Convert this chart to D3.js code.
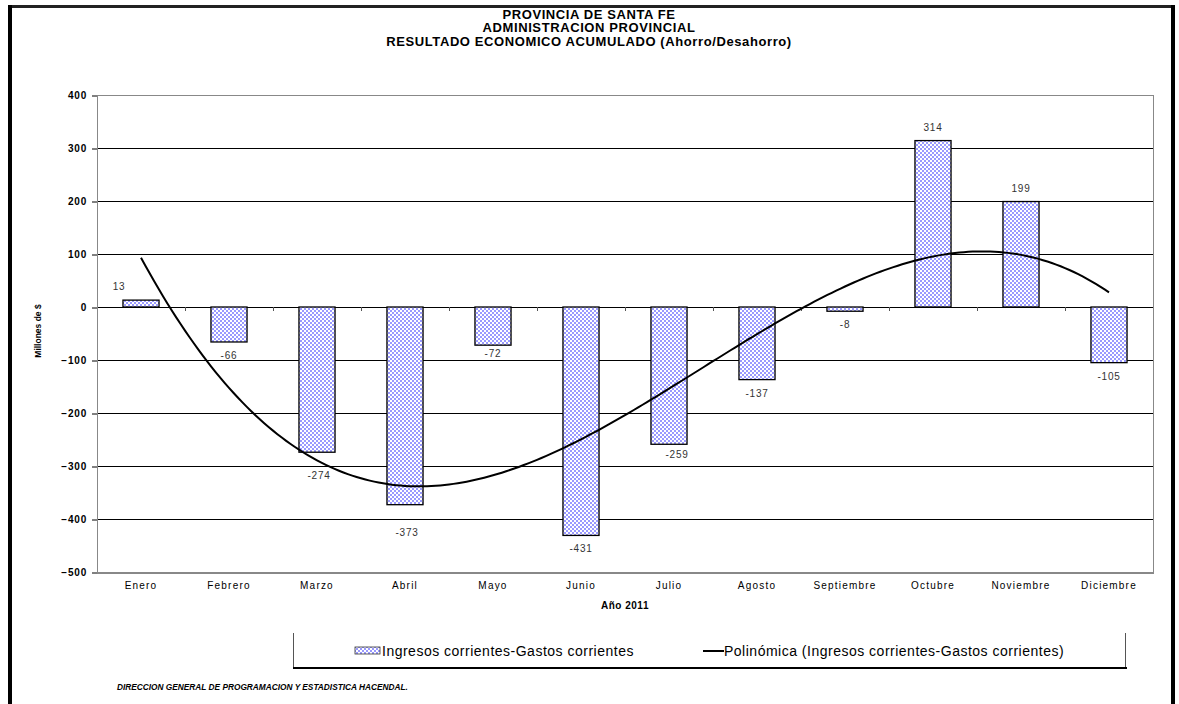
<!DOCTYPE html>
<html><head><meta charset="utf-8">
<script src="https://cdn.jsdelivr.net/npm/d3@7"></script>
<style>
body{margin:0;background:#fff;}
svg{display:block;font-family:"Liberation Sans",Arial,sans-serif;}
</style>
</head><body>
<svg id="c" width="1179" height="704"></svg>
<script>
// ---------- data ----------
const titleLines = ["PROVINCIA DE SANTA FE", "ADMINISTRACION PROVINCIAL", "RESULTADO ECONOMICO ACUMULADO (Ahorro/Desahorro)"];
const months = ["Enero","Febrero","Marzo","Abril","Mayo","Junio","Julio","Agosto","Septiembre","Octubre","Noviembre","Diciembre"];
const values = [13, -66, -274, -373, -72, -431, -259, -137, -8, 314, 199, -105];
const yTicks = [400, 300, 200, 100, 0, -100, -200, -300, -400, -500];
const yTitle = "Millones de $";
const xTitle = "Año 2011";
const seriesName = "Ingresos corrientes-Gastos corrientes";
const trendName = "Polinómica (Ingresos corrientes-Gastos corrientes)";
const footer = "DIRECCION GENERAL DE PROGRAMACION Y ESTADISTICA HACENDAL.";

// ---------- layout ----------
const svg = d3.select("#c");
const P = {left: 97, right: 1153, top: 95, bottom: 572};

const x = d3.scaleBand().domain(months).range([P.left, P.right])
  .paddingInner(0.59).paddingOuter(0.295);
const y = d3.scaleLinear().domain([-500, 400]).range([P.bottom, P.top]);
const cx = m => x(m) + x.bandwidth() / 2;

// pattern
const defs = svg.append("defs");
const pat = defs.append("pattern").attr("id", "chk").attr("patternUnits", "userSpaceOnUse")
  .attr("width", 4).attr("height", 4);
pat.append("rect").attr("width", 4).attr("height", 4).attr("fill", "#fff");
pat.append("rect").attr("width", 2).attr("height", 2).attr("fill", "#9999ff");
pat.append("rect").attr("x", 2).attr("y", 2).attr("width", 2).attr("height", 2).attr("fill", "#9999ff");

// outer frame
svg.append("rect").attr("x", 8).attr("y", 5).attr("width", 1167).attr("height", 3).attr("fill", "#222");
svg.append("rect").attr("x", 8).attr("y", 5).attr("width", 4).attr("height", 700).attr("fill", "#000");
svg.append("rect").attr("x", 1171).attr("y", 5).attr("width", 4).attr("height", 700).attr("fill", "#000");

// title
svg.append("g").selectAll("text").data(titleLines).join("text")
  .attr("x", 589).attr("y", (d, i) => 18.5 + i * 13.5)
  .attr("text-anchor", "middle").attr("font-size", "13px").attr("font-weight", "bold")
  .attr("letter-spacing", "0.6px").attr("fill", "#000").text(d => d);

// gridlines
const grid = yTicks.filter(t => t < 400 && t > -500);
svg.append("g").selectAll("line").data(grid).join("line")
  .attr("x1", P.left).attr("x2", P.right)
  .attr("y1", d => Math.round(y(d)) + 0.5).attr("y2", d => Math.round(y(d)) + 0.5)
  .attr("stroke", "#000").attr("stroke-width", 1);

// plot frame
svg.append("rect").attr("x", P.left + 0.5).attr("y", P.top + 0.5)
  .attr("width", P.right - P.left).attr("height", P.bottom - P.top)
  .attr("fill", "none").attr("stroke", "#888").attr("stroke-width", 1);
svg.append("line").attr("x1", P.left).attr("x2", P.right + 1)
  .attr("y1", P.bottom + 1).attr("y2", P.bottom + 1).attr("stroke", "#888").attr("stroke-width", 2);

// y axis
const yAxis = d3.axisLeft(y).tickValues(yTicks).tickSize(5).tickPadding(5).tickFormat(d3.format("d"));
const gy = svg.append("g").attr("transform", `translate(${P.left},0)`).call(yAxis);
gy.select(".domain").remove();
gy.selectAll(".tick line").attr("stroke", "#000").attr("transform", "translate(0,0.5)");
gy.selectAll(".tick text").attr("font-size", "10px").attr("font-weight", "bold")
  .attr("font-family", "Liberation Sans, Arial, sans-serif").attr("letter-spacing", "0.8px").attr("fill", "#000");

// y title
svg.append("text").attr("transform", `translate(41,331) rotate(-90)`)
  .attr("text-anchor", "middle").attr("font-size", "8.5px").attr("font-weight", "bold").text(yTitle);

// category ticks on zero line
const bounds = d3.range(1, months.length).map(i => P.left + i * x.step());
svg.append("g").selectAll("line").data(bounds).join("line")
  .attr("x1", d => Math.round(d) + 0.5).attr("x2", d => Math.round(d) + 0.5)
  .attr("y1", Math.round(y(0))).attr("y2", Math.round(y(0)) + 4)
  .attr("stroke", "#555");

// bars
svg.append("g").selectAll("rect").data(months).join("rect")
  .attr("x", m => x(m)).attr("width", x.bandwidth())
  .attr("y", (m, i) => y(Math.max(0, values[i])))
  .attr("height", (m, i) => Math.abs(y(values[i]) - y(0)))
  .attr("fill", "url(#chk)").attr("stroke", "#000").attr("stroke-width", 1.3);

// x labels
svg.append("g").selectAll("text").data(months).join("text")
  .attr("x", m => cx(m)).attr("y", 589).attr("text-anchor", "middle")
  .attr("font-size", "10px").attr("letter-spacing", "1.2px").attr("fill", "#000").text(m => m);
svg.append("text").attr("x", (P.left + P.right) / 2).attr("y", 609).attr("text-anchor", "middle")
  .attr("font-size", "10px").attr("font-weight", "bold").attr("letter-spacing", "0.5px").text(xTitle);

// value labels (with small nudges as in the original)
const nudge = {Enero: [-22, 0], Marzo: [2, 10], Abril: [2, 14], Mayo: [0, -5], Julio: [8, -3]};
svg.append("g").selectAll("text").data(months).join("text")
  .attr("x", m => cx(m) + (nudge[m] ? nudge[m][0] : 0))
  .attr("y", (m, i) => (values[i] >= 0 ? y(values[i]) - 10 : y(values[i]) + 17) + (nudge[m] ? nudge[m][1] : 0))
  .attr("text-anchor", "middle").attr("font-size", "10px").attr("letter-spacing", "0.8px")
  .attr("fill", "#333").text((m, i) => values[i]);

// polynomial (cubic) trendline, least squares fit of the series
function polyfit(xs, ys, deg) {
  const n = deg + 1;
  const A = Array.from({length: n}, () => Array(n + 1).fill(0));
  for (let k = 0; k < xs.length; k++) {
    for (let i = 0; i < n; i++) {
      for (let j = 0; j < n; j++) A[i][j] += Math.pow(xs[k], i + j);
      A[i][n] += ys[k] * Math.pow(xs[k], i);
    }
  }
  for (let i = 0; i < n; i++) {
    let p = i;
    for (let r = i + 1; r < n; r++) if (Math.abs(A[r][i]) > Math.abs(A[p][i])) p = r;
    [A[i], A[p]] = [A[p], A[i]];
    for (let r = 0; r < n; r++) {
      if (r === i) continue;
      const f = A[r][i] / A[i][i];
      for (let c = i; c <= n; c++) A[r][c] -= f * A[i][c];
    }
  }
  return A.map((row, i) => row[n] / row[i]);
}
const idx = months.map((m, i) => i);
const coef = polyfit(idx, values, 3);
const poly = t => coef.reduce((s, c, k) => s + c * Math.pow(t, k), 0);
const xi = d3.scaleLinear().domain([0, months.length - 1]).range([cx(months[0]), cx(months[months.length - 1])]);
const samples = d3.range(0, months.length - 1 + 1e-9, 0.05);
svg.append("path").datum(samples)
  .attr("d", d3.line().x(t => xi(t)).y(t => y(poly(t))).curve(d3.curveLinear))
  .attr("fill", "none").attr("stroke", "#000").attr("stroke-width", 2);

// legend box
const lg = svg.append("g");
lg.append("line").attr("x1", 293.5).attr("x2", 293.5).attr("y1", 633).attr("y2", 668).attr("stroke", "#555");
lg.append("line").attr("x1", 1125.5).attr("x2", 1125.5).attr("y1", 633).attr("y2", 668).attr("stroke", "#555");
lg.append("rect").attr("x", 293).attr("y", 667).attr("width", 834).attr("height", 2).attr("fill", "#000");
lg.append("rect").attr("x", 355).attr("y", 647).attr("width", 25).attr("height", 7)
  .attr("fill", "url(#chk)").attr("stroke", "#333").attr("stroke-width", 0.8);
lg.append("text").attr("x", 382).attr("y", 656).attr("font-size", "14px").attr("letter-spacing", "0.5px")
  .attr("fill", "#000").text(seriesName);
lg.append("line").attr("x1", 703).attr("x2", 724).attr("y1", 651).attr("y2", 651)
  .attr("stroke", "#000").attr("stroke-width", 2);
lg.append("text").attr("x", 724).attr("y", 656).attr("font-size", "14px").attr("letter-spacing", "0.5px")
  .attr("fill", "#000").text(trendName);

// footer
svg.append("text").attr("x", 117).attr("y", 690).attr("font-size", "8.3px").attr("font-weight", "bold")
  .attr("font-style", "italic").attr("fill", "#000").text(footer);
</script>
</body></html>
